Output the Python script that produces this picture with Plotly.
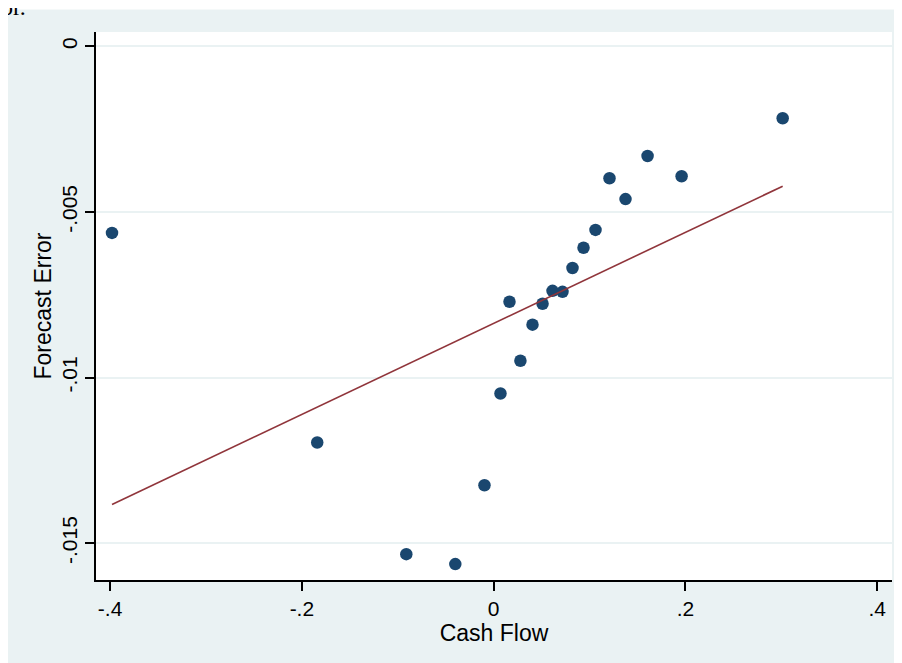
import plotly.graph_objects as go

# Data
cash_flow = [-0.398, -0.184, -0.0911, -0.040, -0.0096, 0.0071, 0.0165, 0.0279, 0.0405, 0.051,
             0.0614, 0.0718, 0.0822, 0.0937, 0.1062, 0.1208, 0.1375, 0.1605, 0.196, 0.3014]
forecast_error = [-0.00563, -0.01196, -0.01533, -0.01563, -0.01325, -0.01048, -0.00771, -0.00949,
                  -0.00840, -0.00777, -0.00738, -0.00741, -0.00669, -0.00608, -0.00554, -0.00398,
                  -0.00461, -0.00331, -0.00392, -0.00217]
fit_x = [-0.398, 0.3014]
fit_y = [-0.01383, -0.00422]

x_tickvals = [-0.4, -0.2, 0, 0.2, 0.4]
x_ticktext = ["-.4", "-.2", "0", ".2", ".4"]
y_tickvals = [0, -0.005, -0.01, -0.015]
y_ticktext = ["0", "-.005", "-.01", "-.015"]

# figure sits inside the page's 8px body margin
W, H = 894, 655
L, R, T, B = 88, 10, 24, 83
PW, PH = W - L - R, H - T - B

def px_to_paper_x(px):
    return (px - L) / PW

def px_to_paper_y(py):
    return (H - B - py) / PH

BG = "#EAF2F3"
NAVY = "#1A476F"
MAROON = "#90353B"
FONT = "Liberation Sans"

fig = go.Figure()
fig.add_trace(go.Scatter(x=cash_flow, y=forecast_error, mode="markers",
                         marker=dict(color=NAVY, size=12.5, line=dict(width=0)),
                         showlegend=False, hoverinfo="skip"))
fig.add_trace(go.Scatter(x=fit_x, y=fit_y, mode="lines",
                         line=dict(color=MAROON, width=1.6),
                         showlegend=False, hoverinfo="skip"))

shapes = [
    # thin extra white strip at the top
    dict(type="rect", xref="paper", yref="paper",
         x0=px_to_paper_x(-5), x1=px_to_paper_x(W + 5), y0=px_to_paper_y(1.5), y1=px_to_paper_y(-5),
         fillcolor="white", line=dict(width=0), layer="below"),
]

fig.update_layout(
    width=W, height=H,
    margin=dict(l=L, r=R, t=T, b=B, pad=0),
    paper_bgcolor=BG, plot_bgcolor="white",
    font=dict(family=FONT, size=21, color="black"),
    shapes=shapes,
    annotations=[dict(text="or.", xref="paper", yref="paper",
                      x=px_to_paper_x(-9), y=px_to_paper_y(14),
                      xanchor="left", yanchor="bottom", showarrow=False,
                      font=dict(family="Liberation Serif", size=24, color="black"))],
    xaxis=dict(range=[-0.4147, 0.4154], tickvals=x_tickvals, ticktext=x_ticktext,
               showgrid=False, zeroline=False, showline=True, linecolor="black", linewidth=1.5,
               ticks="outside", ticklen=9, tickwidth=1.5, tickcolor="black",
               tickfont=dict(family=FONT, size=21),
               title=dict(text="Cash Flow", font=dict(family=FONT, size=23), standoff=0)),
    yaxis=dict(range=[-0.01611, 0.000435], tickvals=y_tickvals, ticktext=y_ticktext,
               showgrid=True, gridcolor=BG, gridwidth=1.5, zeroline=False,
               showline=True, linecolor="black", linewidth=1.5,
               ticks="outside", ticklen=9, tickwidth=1.5, tickcolor="black",
               tickangle=-90, tickfont=dict(family=FONT, size=21),
               title=dict(text="Forecast Error", font=dict(family=FONT, size=23), standoff=0)),
)

fig.write_html("out.html")
